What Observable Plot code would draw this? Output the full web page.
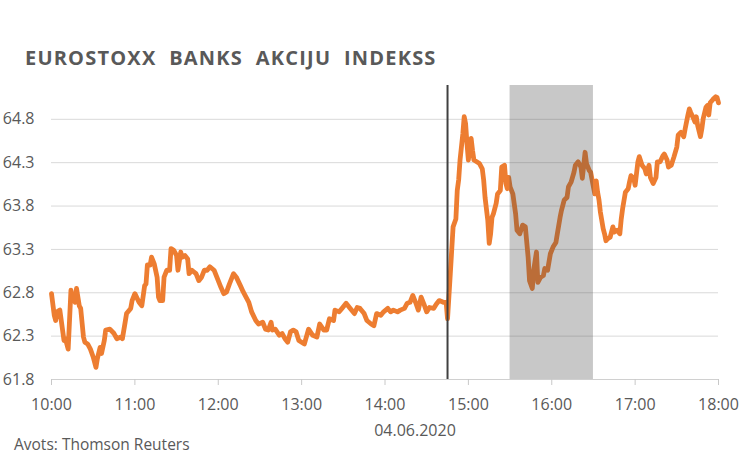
<!DOCTYPE html>
<html>
<head>
<meta charset="utf-8">
<script src="https://cdn.jsdelivr.net/npm/d3@7"></script>
<script src="https://cdn.jsdelivr.net/npm/@observablehq/plot@0.6"></script>
<style>
  body { margin: 0; background: #fff; }
  #wrap { position: relative; width: 750px; height: 454px; overflow: hidden; }
  #wrap svg { position: absolute; left: 0; top: 0; }
</style>
</head>
<body>
<div id="wrap"></div>
<script>
// ---- data ----
const titleText = "EUROSTOXX  BANKS  AKCIJU  INDEKSS";
const dateLabel = "04.06.2020";
const sourceText = "Avots: Thomson Reuters";
const dayStart = "2020-06-04T10:00:00Z";
const xTickLabels = ["10:00","11:00","12:00","13:00","14:00","15:00","16:00","17:00","18:00"];
const yTicks = [61.8, 62.3, 62.8, 63.3, 63.8, 64.3, 64.8];
const eventTime = "14:45";
const shadeStart = "15:30";
const shadeEnd = "16:30";

// minutes after 10:00
const minutesFrom10 = [
  0,2,3,4,6,9,10,12,14,15,17,18,20,21,23,24,26,28,30,32,33,35,36,38,39,42,45,47,50,51,53,54,57,58,60,
  63,65,67,68,69,71,72,74,76,77,78,80,81,83,85,86,88,90,91,93,94,96,98,99,101,104,106,108,110,112,114,117,
  119,122,124,126,128,131,133,136,138,140,142,144,147,149,152,154,156,158,159,161,164,166,168,170,172,
  174,176,178,180,182,185,188,191,193,196,198,200,203,204,207,209,212,215,218,220,222,225,227,230,232,
  234,237,239,242,244,246,249,251,254,256,258,260,262,264,266,268,270,272,275,277,279,282,284,285,
  287,289,291,292,293,294,296,297,298,299,300,301,302,303,304,306,308,310,311,312,314,315,316,317,318,
  320,321,323,324,326,327,328,329,330,332,334,335,337,339,341,343,344,346,347,349,350,352,354,355,357,
  359,361,363,364,366,367,369,371,372,374,376,377,379,381,382,384,385,387,388,390,391,392,393,394,395,
  397,398,399,400,402,404,405,407,409,410,411,413,415,416,417,419,420,422,423,425,427,428,430,431,433,
  435,436,438,440,441,443,444,446,448,450,451,453,455,456,458,459,460,462,463,464,465,467,468,469,471,
  472,473,474,476,478,479,480
];
const indexValues = [
  62.79,62.54,62.48,62.58,62.60,62.25,62.27,62.15,62.83,62.75,62.69,62.85,62.65,62.62,62.29,62.23,62.21,62.15,62.06,61.94,62.04,62.17,62.10,62.25,62.37,62.38,62.33,62.27,62.29,62.27,62.46,62.56,62.62,62.71,62.79,
  62.69,62.65,62.88,62.90,63.12,63.12,63.21,63.13,62.98,62.75,62.71,62.71,62.98,63.06,63.06,63.31,63.29,63.23,63.06,63.27,63.21,63.23,63.19,63.02,63.06,63.02,62.94,62.98,63.06,63.06,63.10,63.06,
  62.98,62.86,62.79,62.81,62.90,63.02,62.98,62.88,62.81,62.75,62.69,62.58,62.48,62.44,62.46,62.38,62.37,62.46,62.37,62.38,62.31,62.33,62.27,62.23,62.35,
  62.37,62.35,62.25,62.23,62.21,62.38,62.31,62.29,62.44,62.37,62.37,62.50,62.48,62.60,62.58,62.62,62.68,62.62,62.56,62.63,62.62,62.56,62.48,62.44,62.42,
  62.56,62.54,62.58,62.62,62.58,62.60,62.58,62.60,62.62,62.68,62.69,62.77,62.69,62.60,62.75,62.67,62.58,62.63,62.62,62.67,62.71,62.69,62.69,62.50,
  63.02,63.56,63.65,63.98,64.10,64.33,64.63,64.83,64.75,64.52,64.33,64.48,64.58,64.44,64.33,64.31,64.29,64.23,64.10,63.90,63.63,63.37,63.48,63.67,63.71,
  63.83,63.94,63.98,64.25,64.27,64.06,64.00,64.13,64.02,63.94,63.71,63.52,63.48,63.58,63.56,63.21,62.94,62.85,63.06,63.27,62.92,62.98,63.00,63.08,63.06,
  63.25,63.33,63.38,63.48,63.67,63.75,63.87,63.90,64.02,64.08,64.19,64.27,64.31,64.25,64.12,64.42,64.29,64.21,64.19,64.02,63.94,64.09,63.96,63.87,63.73,
  63.54,63.48,63.40,63.42,63.44,63.56,63.50,63.52,63.48,63.65,63.77,63.96,64.00,64.08,64.15,64.12,64.04,64.31,64.37,64.27,64.23,64.17,64.27,64.13,64.06,
  64.13,64.31,64.31,64.38,64.40,64.33,64.25,64.27,64.37,64.48,64.62,64.65,64.60,64.69,64.85,64.92,64.88,64.81,64.77,64.83,64.73,64.60,64.69,64.81,64.94,
  64.96,64.85,64.99,65.03,65.06,65.05,64.99
];

// ---- build ----
const base = new Date(dayStart);
const atMin = m => new Date(base.getTime() + m * 60000);
const atHM = s => { const [h, m] = s.split(":").map(Number); return atMin((h - 10) * 60 + m); };
const series = minutesFrom10.map((m, i) => ({ t: atMin(m), v: indexValues[i] }));
const xTicks = xTickLabels.map(atHM);

const font = "'Open Sans', sans-serif";
const grey = "#595959";

const chart = Plot.plot({
  width: 750,
  height: 454,
  marginLeft: 51,
  marginRight: 32,
  marginTop: 85,
  marginBottom: 75,
  style: { fontFamily: font, fontSize: "16px", color: grey, background: "transparent" },
  x: { type: "utc", domain: [atHM(xTickLabels[0]), atHM(xTickLabels[xTickLabels.length - 1])] },
  y: { domain: [61.8, 65.19] },
  marks: [
    Plot.gridY(yTicks.slice(1), { stroke: "#d9d9d9", strokeOpacity: 1, strokeWidth: 1 }),
    Plot.ruleY([yTicks[0]], { stroke: "#d0d0d0", strokeWidth: 1 }),
    Plot.axisX(xTicks, {
      tickFormat: d3.utcFormat("%H:%M"), tickSize: 6, tickPadding: 13,
      stroke: "#c8c8c8", fill: grey, label: null, fontSize: 16
    }),
    Plot.axisY(yTicks, {
      tickFormat: d3.format(".1f"), tickSize: 0, tickPadding: 17,
      fill: grey, label: null, fontSize: 16
    }),
    Plot.line(series, { x: "t", y: "v", stroke: "#ED7D31", strokeWidth: 4.8, strokeLinejoin: "round", strokeLinecap: "round" }),
    Plot.ruleX([atHM(eventTime)], { stroke: "#404040", strokeWidth: 2 }),
    Plot.rect([{ a: atHM(shadeStart), b: atHM(shadeEnd) }], { x1: "a", x2: "b", fill: "#4a4a4a", fillOpacity: 0.3 })
  ]
});

const wrap = document.getElementById("wrap");
wrap.appendChild(chart);

// overlay texts
const ns = "http://www.w3.org/2000/svg";
const ov = document.createElementNS(ns, "svg");
ov.setAttribute("width", 750); ov.setAttribute("height", 454);
function addText(txt, x, y, opts) {
  const t = document.createElementNS(ns, "text");
  t.textContent = txt;
  t.setAttribute("x", x); t.setAttribute("y", y);
  t.setAttribute("fill", grey);
  t.setAttribute("font-family", font);
  for (const k in opts) t.setAttribute(k, opts[k]);
  ov.appendChild(t);
}
addText(titleText, 25, 65, { "font-size": 20, "font-weight": 700, "letter-spacing": 1.2, "style": "white-space:pre" });
addText(dateLabel, 415, 436, { "font-size": 16, "text-anchor": "middle" });
addText(sourceText, 14, 450, { "font-size": 15.5 });
wrap.appendChild(ov);
</script>
</body>
</html>
